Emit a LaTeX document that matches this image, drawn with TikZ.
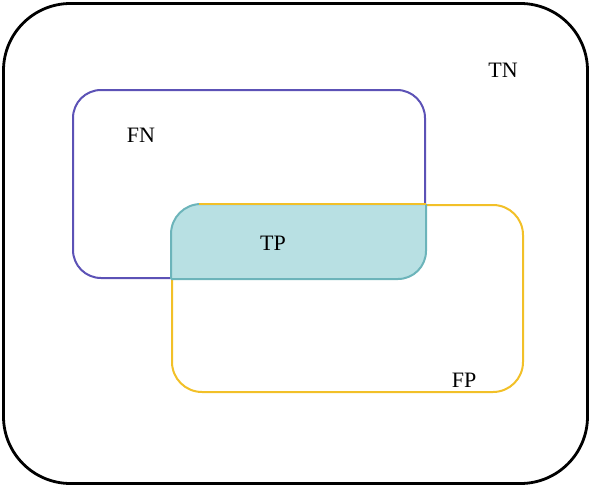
\documentclass[tikz,border=0pt]{standalone}
\usepackage{fontspec}
\setmainfont{Liberation Serif}
\definecolor{fnblue}{RGB}{92,82,182}
\definecolor{fpyellow}{RGB}{242,192,40}
\definecolor{tpfill}{RGB}{184,224,227}
\definecolor{tpline}{RGB}{108,180,186}
\begin{document}
\begin{tikzpicture}[x=1pt,y=-1pt,
  box/.style={draw, rectangle, inner sep=0pt},
  lbl/.style={font=\fontsize{22}{26}\selectfont, inner sep=0pt}]
\useasboundingbox (0,0) rectangle (591,487);
\node[box, line width=2.8pt, rounded corners=67pt, minimum width=584pt, minimum height=480pt] (outer) at (295.5,243.5) {};
\node[box, draw=fnblue, line width=2pt, rounded corners=28pt, minimum width=352pt, minimum height=188pt] (fnbox) at (249,184) {};
\node[box, draw=fpyellow, line width=2pt, rounded corners=30pt, minimum width=351pt, minimum height=187pt] (fpbox) at (347.5,298.5) {};
% intersection (TP)
\begin{scope}
  \clip[rounded corners=28pt] (fnbox.north west) rectangle (fnbox.south east);
  \fill[tpfill, rounded corners=30pt] (fpbox.north west) rectangle (fpbox.south east);
  \draw[tpline, line width=2pt, rounded corners=30pt] (fpbox.north west) rectangle (fpbox.south east);
\end{scope}
\begin{scope}
  \clip[rounded corners=30pt] (fpbox.north west) rectangle (fpbox.south east);
  \draw[tpline, line width=2pt, rounded corners=28pt] (fnbox.north west) rectangle (fnbox.south east);
\end{scope}
\coordinate (tpa) at ([xshift=28pt]fpbox.north west);
\coordinate (tpb) at (fnbox.east |- fpbox.north);
\draw[fpyellow, line width=2pt] (tpa) -- (tpb);
\node[lbl] (tn) at (503,70) {TN};
\node[lbl] (fn) at (141,135) {FN};
\node[lbl] (tp) at (273,243) {TP};
\node[lbl] (fp) at (464,380) {FP};
\end{tikzpicture}
\end{document}
